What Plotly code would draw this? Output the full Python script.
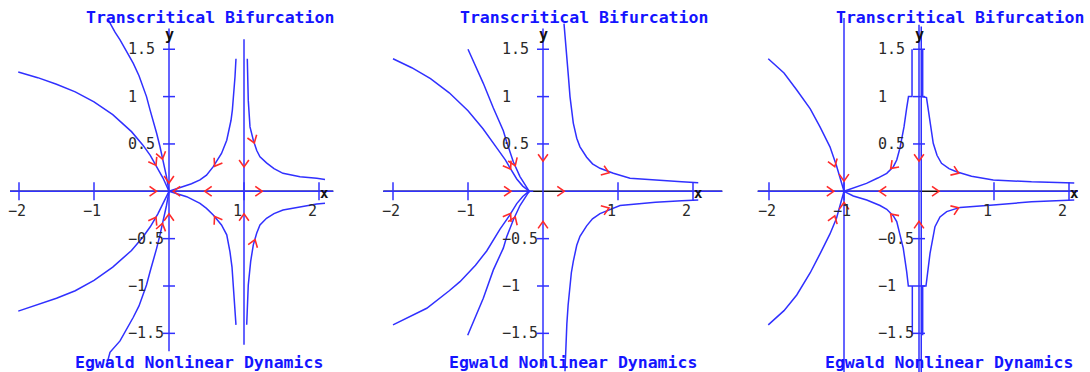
import math
import plotly.graph_objects as go

# ---------------------------------------------------------------- text / ticks
TITLE = "Transcritical Bifurcation"
FOOTER = "Egwald Nonlinear Dynamics"
X_TICKS = [-2, -1, 1, 2]
Y_TICKS = [1.5, 1, 0.5, -0.5, -1, -1.5]

# ---------------------------------------------------------------- r = 1 panel
R1_UPPER_FAR = [(-2.01, 1.26), (-1.75, 1.20), (-1.5, 1.13), (-1.25, 1.05), (-1.0, 0.945),
                (-0.75, 0.81), (-0.5, 0.63), (-0.35, 0.49), (-0.25, 0.38), (-0.15, 0.245),
                (-0.08, 0.14), (0.0, 0.0)]
R1_UPPER_NEAR = [(-0.81, 1.81), (-0.72, 1.68), (-0.653, 1.60), (-0.56, 1.47), (-0.476, 1.35),
                 (-0.40, 1.22), (-0.343, 1.105), (-0.30, 1.0), (-0.253, 0.86), (-0.20, 0.72),
                 (-0.164, 0.61), (-0.12, 0.47), (-0.076, 0.32), (-0.035, 0.16), (0.0, 0.0)]
R1_LOWER_FAR = [(-2.01, -1.265), (-1.75, -1.20), (-1.5, -1.13), (-1.25, -1.05), (-1.0, -0.94),
                (-0.75, -0.80), (-0.5, -0.625), (-0.35, -0.485), (-0.25, -0.375), (-0.15, -0.24),
                (-0.08, -0.135), (0.0, 0.0)]
R1_LOWER_NEAR = [(-0.83, -1.83), (-0.787, -1.70), (-0.653, -1.58), (-0.56, -1.45), (-0.476, -1.33),
                 (-0.40, -1.21), (-0.343, -1.095), (-0.30, -0.99), (-0.253, -0.85), (-0.20, -0.71),
                 (-0.164, -0.60), (-0.12, -0.46), (-0.076, -0.31), (-0.035, -0.155), (0.0, 0.0)]
R1_UPPER_INNER = [(0.0, 0.0), (0.19, 0.05), (0.30, 0.08), (0.413, 0.12), (0.50, 0.17), (0.59, 0.26),
                  (0.65, 0.33), (0.70, 0.40), (0.77, 0.54), (0.80, 0.64), (0.827, 0.75),
                  (0.845, 0.86), (0.857, 0.96), (0.87, 1.08), (0.88, 1.21), (0.893, 1.40)]
R1_UPPER_OUTER = [(1.044, 1.40), (1.05, 1.18), (1.057, 0.96), (1.08, 0.68), (1.10, 0.60),
                  (1.124, 0.54), (1.17, 0.43), (1.213, 0.365), (1.30, 0.30), (1.40, 0.24),
                  (1.52, 0.19), (1.747, 0.154), (1.97, 0.137), (2.08, 0.125)]
R1_LOWER_INNER = [(0.0, 0.0), (0.236, -0.057), (0.413, -0.127), (0.50, -0.18), (0.59, -0.25),
                  (0.70, -0.356), (0.77, -0.46), (0.813, -0.64), (0.84, -0.80), (0.857, -0.99),
                  (0.88, -1.20), (0.893, -1.41)]
R1_LOWER_OUTER = [(1.036, -1.41), (1.045, -1.20), (1.057, -0.99), (1.089, -0.74), (1.124, -0.565),
                  (1.17, -0.44), (1.213, -0.356), (1.30, -0.285), (1.40, -0.235), (1.52, -0.197),
                  (1.747, -0.163), (1.97, -0.135), (2.08, -0.127)]
R1_AXIS_RUNS = [[(-2.12, 0.0), (2.19, 0.0)], [(0.0, 1.72), (0.0, -1.69)], [(1.0, 1.605), (1.0, -1.62)]]
R1_BASE_AXIS = (-2.12, 2.19)
R1_ARROWS = [(-0.22, 0.0, 0), (0.11, 0.0, 180), (0.53, 0.0, 180), (1.19, 0.0, 0),
             (0.0, 0.13, -90), (0.0, -0.28, 90), (1.0, 0.30, -90), (1.0, -0.28, 90),
             (-0.20, 0.31, -60), (-0.10, 0.38, -76), (-0.20, -0.31, 60), (-0.10, -0.38, 76),
             (0.636, 0.30, -122), (0.636, -0.30, 122), (1.12, 0.55, -71), (1.13, -0.55, 71)]

# ---------------------------------------------------------------- r = 0 panel
R0_UPPER_FAR = [(-2.0, 1.40), (-1.75, 1.305), (-1.5, 1.19), (-1.25, 1.04), (-1.0, 0.85),
                (-0.8, 0.66), (-0.6, 0.44), (-0.5, 0.33), (-0.45, 0.26), (-0.35, 0.13),
                (-0.27, 0.055), (-0.21, 0.015), (-0.18, 0.0)]
R0_UPPER_NEAR = [(-1.0, 1.50), (-0.9, 1.33), (-0.796, 1.14), (-0.662, 0.88), (-0.529, 0.64),
                 (-0.484, 0.52), (-0.395, 0.31), (-0.307, 0.155), (-0.25, 0.075), (-0.2, 0.02),
                 (-0.18, 0.0)]
R0_LOWER_FAR = [(-2.0, -1.41), (-1.75, -1.31), (-1.55, -1.235), (-1.25, -1.05), (-1.107, -0.954),
                (-0.9, -0.78), (-0.751, -0.63), (-0.573, -0.40), (-0.45, -0.26), (-0.35, -0.13),
                (-0.27, -0.055), (-0.21, -0.015), (-0.18, 0.0)]
R0_LOWER_NEAR = [(-1.004, -1.52), (-0.9, -1.33), (-0.796, -1.13), (-0.662, -0.83), (-0.529, -0.60),
                 (-0.484, -0.48), (-0.395, -0.30), (-0.307, -0.15), (-0.25, -0.075), (-0.2, -0.02),
                 (-0.18, 0.0)]
R0_UPPER_RIGHT = [(0.28, 1.77), (0.30, 1.60), (0.316, 1.46), (0.34, 1.20), (0.36, 1.0), (0.38, 0.86),
                  (0.404, 0.72), (0.45, 0.56), (0.493, 0.47), (0.582, 0.36), (0.66, 0.29),
                  (0.76, 0.243), (0.938, 0.19), (1.16, 0.137), (1.56, 0.12), (1.85, 0.10), (2.07, 0.09)]
R0_LOWER_RIGHT = [(0.293, -1.90), (0.305, -1.60), (0.318, -1.40), (0.335, -1.20), (0.355, -1.0),
                  (0.378, -0.86), (0.404, -0.74), (0.45, -0.57), (0.493, -0.475), (0.582, -0.365),
                  (0.66, -0.29), (0.76, -0.235), (1.027, -0.15), (1.5, -0.115), (1.85, -0.10),
                  (2.07, -0.092)]
R0_AXIS_RUNS = [[(-2.13, 0.0), (-0.13, 0.0)], [(0.25, 0.0), (2.39, 0.0)], [(0.0, 1.72), (0.0, -1.85)]]
R0_BASE_AXIS = (-2.13, 2.39)
R0_ARROWS = [(-0.48, 0.0, 0), (0.23, 0.0, 0), (0.0, 0.36, -90), (0.0, -0.36, 90),
             (-0.46, 0.27, -58), (-0.39, 0.31, -68), (-0.46, -0.27, 58), (-0.39, -0.31, 68),
             (0.83, 0.21, -20), (0.83, -0.19, 20)]

# ---------------------------------------------------------------- r = -1 panel
RM_UPPER_LEFT = [(-2.01, 1.40), (-1.8, 1.25), (-1.63, 1.07), (-1.45, 0.87), (-1.32, 0.68),
                 (-1.187, 0.47), (-1.1, 0.27), (-1.05, 0.14), (-1.017, 0.045), (-1.0, 0.0)]
RM_LOWER_LEFT = [(-2.01, -1.41), (-1.8, -1.26), (-1.63, -1.095), (-1.45, -0.86), (-1.32, -0.66),
                 (-1.187, -0.45), (-1.1, -0.285), (-1.05, -0.15), (-1.017, -0.05), (-1.0, 0.0)]
RM_UPPER_MID = [(-1.0, 0.0), (-0.85, 0.04), (-0.7, 0.084), (-0.55, 0.14), (-0.43, 0.19),
                (-0.342, 0.26), (-0.297, 0.33), (-0.253, 0.46), (-0.2, 0.68), (-0.164, 0.88),
                (-0.14, 1.0), (-0.093, 1.0), (-0.093, 1.5)]
RM_UPPER_RIGHT = [(0.049, 1.5), (0.049, 1.0), (0.10, 0.99), (0.147, 0.75), (0.19, 0.507),
                  (0.24, 0.38), (0.30, 0.296), (0.40, 0.24), (0.50, 0.207), (0.70, 0.16),
                  (0.99, 0.12), (1.5, 0.10), (2.07, 0.088)]
RM_LOWER_MID = [(-1.0, 0.0), (-0.876, -0.05), (-0.697, -0.092), (-0.52, -0.15), (-0.43, -0.19),
                (-0.342, -0.26), (-0.297, -0.32), (-0.253, -0.45), (-0.21, -0.60), (-0.164, -0.85),
                (-0.142, -1.0), (-0.089, -1.0), (-0.089, -1.52)]
RM_LOWER_RIGHT = [(0.049, -1.52), (0.049, -1.0), (0.093, -1.0), (0.147, -0.655), (0.213, -0.374),
                  (0.28, -0.27), (0.369, -0.215), (0.547, -0.17), (0.99, -0.145), (1.5, -0.11),
                  (2.07, -0.092)]
RM_AXIS_RUNS = [[(-2.15, 0.0), (0.0, 0.0)], [(0.28, 0.0), (2.12, 0.0)], [(-1.0, 1.83), (-1.0, -1.92)],
                [(0.0, 1.76), (0.0, -1.92)], [(0.03, 1.74), (0.03, -1.92)]]
RM_BASE_AXIS = (-2.15, 2.12)
RM_ARROWS = [(-1.19, 0.0, 0), (-0.476, 0.0, 180), (0.213, 0.0, 0),
             (-1.0, 0.15, -90), (-1.0, -0.16, 90), (0.0, 0.36, -90), (0.0, -0.36, 90),
             (-1.14, 0.30, -71), (-1.14, -0.30, 71), (-0.34, 0.27, -134), (-0.34, -0.27, 134),
             (0.48, 0.207, -22), (0.48, -0.19, 22)]

PANELS = [
    dict(curves=[R1_UPPER_FAR, R1_UPPER_NEAR, R1_LOWER_FAR, R1_LOWER_NEAR,
                 R1_UPPER_INNER, R1_UPPER_OUTER, R1_LOWER_INNER, R1_LOWER_OUTER],
         runs=R1_AXIS_RUNS, base=R1_BASE_AXIS, arrows=R1_ARROWS),
    dict(curves=[R0_UPPER_FAR, R0_UPPER_NEAR, R0_LOWER_FAR, R0_LOWER_NEAR,
                 R0_UPPER_RIGHT, R0_LOWER_RIGHT],
         runs=R0_AXIS_RUNS, base=R0_BASE_AXIS, arrows=R0_ARROWS),
    dict(curves=[RM_UPPER_LEFT, RM_LOWER_LEFT, RM_UPPER_MID, RM_UPPER_RIGHT,
                 RM_LOWER_MID, RM_LOWER_RIGHT],
         runs=RM_AXIS_RUNS, base=RM_BASE_AXIS, arrows=RM_ARROWS),
]

# ---------------------------------------------------------------- layout geometry
FIG_W, FIG_H = 1090, 372
X_UNIT_PX = 75.0
Y_UNIT_PX = 94.7
AXIS_ROW_PX = 191.3
PANEL_ZERO_PX = [169, 543, 919]
PANEL_SPAN_PX = [(0, 372), (374, 748), (750, 1090)]

BLUE = "#3030ff"
RED = "#ff2b2b"
INK = "#2a2a2a"
MONO = "DejaVu Sans Mono, Liberation Mono, monospace"
LINE_W = 1.5


def px_x(p):
    return p / X_UNIT_PX


def px_y(p):
    return p / Y_UNIT_PX


def flatten(segments):
    xs, ys = [], []
    for seg in segments:
        for x, y in seg:
            xs.append(x)
            ys.append(y)
        xs.append(None)
        ys.append(None)
    return xs, ys


def chevrons(arrows, arm=8.5, spread=35.0, lead=4.0):
    """Open ">" heads pointing along the flow, as one polyline per head."""
    xs, ys = [], []
    for x, y, ang in arrows:
        a = math.radians(ang)
        tx, ty = x + px_x(lead * math.cos(a)), y + px_y(lead * math.sin(a))
        b1 = math.radians(ang + 180 - spread)
        b2 = math.radians(ang + 180 + spread)
        xs += [tx + px_x(arm * math.cos(b1)), tx, tx + px_x(arm * math.cos(b2)), None]
        ys += [ty + px_y(arm * math.sin(b1)), ty, ty + px_y(arm * math.sin(b2)), None]
    return xs, ys


def label(v):
    return ("\u2212" if v < 0 else "") + f"{abs(v):g}"


fig = go.Figure()
annotations = []
layout = dict(width=FIG_W, height=FIG_H, margin=dict(l=0, r=0, t=0, b=0),
              paper_bgcolor="white", plot_bgcolor="white", showlegend=False)

y_lo = (AXIS_ROW_PX - FIG_H) / Y_UNIT_PX
y_hi = AXIS_ROW_PX / Y_UNIT_PX

for i, panel in enumerate(PANELS):
    sfx = "" if i == 0 else str(i + 1)
    xr, yr = "x" + sfx, "y" + sfx
    left, right = PANEL_SPAN_PX[i]
    zero = PANEL_ZERO_PX[i]
    layout["xaxis" + sfx] = dict(domain=[left / FIG_W, right / FIG_W],
                                 range=[(left - zero) / X_UNIT_PX, (right - zero) / X_UNIT_PX],
                                 visible=False, anchor=yr)
    layout["yaxis" + sfx] = dict(domain=[0, 1], range=[y_lo, y_hi], visible=False, anchor=xr)

    # base x axis in black
    b0, b1 = panel["base"]
    fig.add_trace(go.Scatter(x=[b0, b1], y=[0, 0], mode="lines", xaxis=xr, yaxis=yr,
                             line=dict(color="#111111", width=LINE_W), hoverinfo="skip"))

    # trajectories lying on the invariant lines
    rx, ry = flatten(panel["runs"])
    fig.add_trace(go.Scatter(x=rx, y=ry, mode="lines", xaxis=xr, yaxis=yr,
                             line=dict(color=BLUE, width=LINE_W), hoverinfo="skip"))

    # tick marks
    tx, ty = [], []
    for t in X_TICKS:
        tx += [t, t, None]
        ty += [px_y(9), px_y(-9), None]
    for t in Y_TICKS:
        tx += [px_x(-6), px_x(6), None]
        ty += [t, t, None]
    fig.add_trace(go.Scatter(x=tx, y=ty, mode="lines", xaxis=xr, yaxis=yr,
                             line=dict(color=BLUE, width=LINE_W), hoverinfo="skip"))

    # phase trajectories
    cx, cy = flatten(panel["curves"])
    fig.add_trace(go.Scatter(x=cx, y=cy, mode="lines", xaxis=xr, yaxis=yr,
                             line=dict(color=BLUE, width=LINE_W), hoverinfo="skip"))

    # direction chevrons
    ax_, ay_ = chevrons(panel["arrows"])
    fig.add_trace(go.Scatter(x=ax_, y=ay_, mode="lines", xaxis=xr, yaxis=yr,
                             line=dict(color=RED, width=1.6), hoverinfo="skip"))

    # tick labels
    for t in X_TICKS:
        annotations.append(dict(x=t + px_x(-12), y=px_y(-20), xref=xr, yref=yr, text=label(t),
                                showarrow=False, xanchor="left", yanchor="middle", borderpad=0,
                                font=dict(family=MONO, size=15, color=INK)))
    for t in Y_TICKS:
        annotations.append(dict(x=px_x(-42), y=t, xref=xr, yref=yr, text=label(t),
                                showarrow=False, xanchor="left", yanchor="middle", borderpad=0,
                                font=dict(family=MONO, size=15, color=INK)))

    # axis names
    annotations.append(dict(x=0, y=px_y(AXIS_ROW_PX - 34.5), xref=xr, yref=yr, text="<b>y</b>",
                            showarrow=False, xanchor="center", yanchor="middle", borderpad=0,
                            font=dict(family=MONO, size=15, color="#111111")))
    annotations.append(dict(x=px_x(155), y=px_y(-2), xref=xr, yref=yr, text="<b>x</b>",
                            showarrow=False, xanchor="center", yanchor="middle", borderpad=0,
                            font=dict(family=MONO, size=14, color="#111111")))

    # heading and footer
    annotations.append(dict(x=px_x(-84), y=px_y(AXIS_ROW_PX - 17.5), xref=xr, yref=yr,
                            text="<b>" + TITLE + "</b>", showarrow=False, borderpad=0,
                            xanchor="left", yanchor="middle",
                            font=dict(family=MONO, size=16.5, color="#1414ff")))
    annotations.append(dict(x=px_x(-95), y=px_y(AXIS_ROW_PX - 362), xref=xr, yref=yr,
                            text="<b>" + FOOTER + "</b>", showarrow=False, borderpad=0,
                            xanchor="left", yanchor="middle",
                            font=dict(family=MONO, size=16.5, color="#1414ff")))

layout["annotations"] = annotations
fig.update_layout(**layout)
fig.write_html("out.html")
